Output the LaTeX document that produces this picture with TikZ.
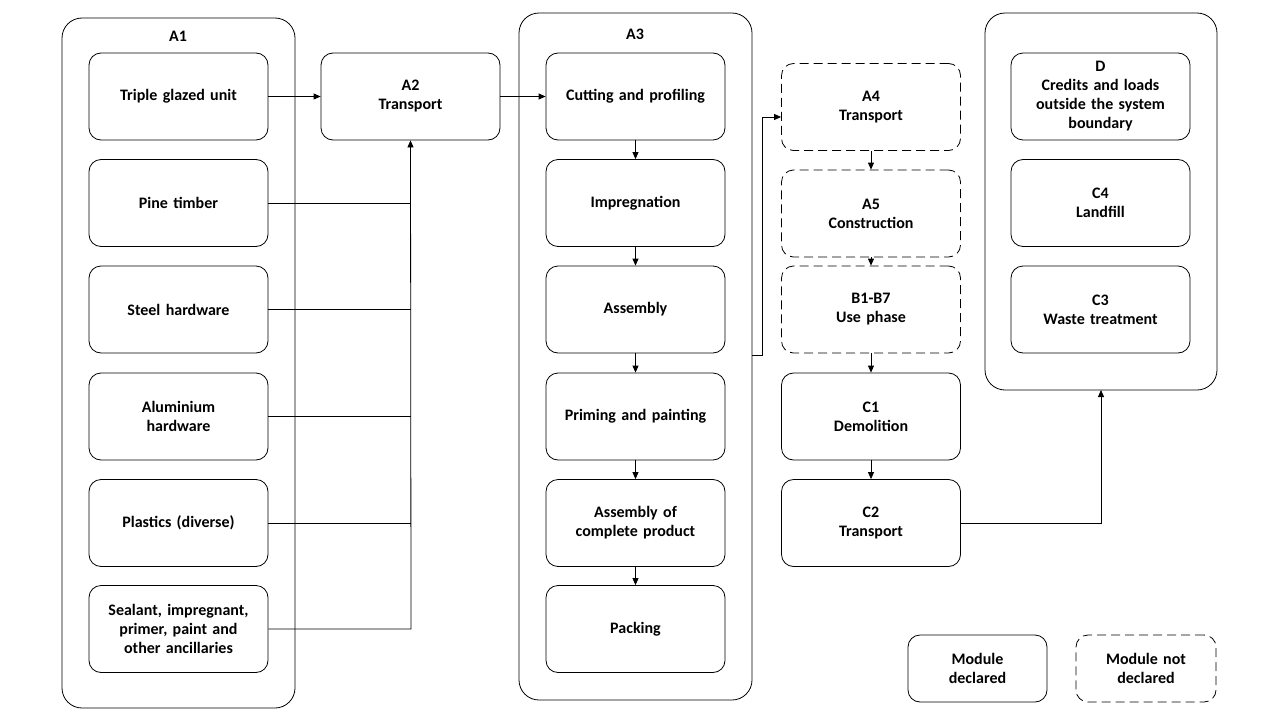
\documentclass[tikz,border=0pt]{standalone}
\usepackage{fontspec}
\setmainfont{Carlito}
\usetikzlibrary{arrows.meta, positioning}
\begin{document}
\begin{tikzpicture}[x=1pt, y=-1pt, >={Triangle[length=7pt,width=6pt]}, font=\bfseries\fontsize{16}{19}\selectfont]
    \tikzset{module/.style={draw, rounded corners=12pt, thick, align=center, minimum width=179pt, minimum height=87pt, inner sep=2pt, text width=170pt},
        undeclared/.style={module, dashed, dash pattern=on 9pt off 5pt},
        stage/.style={draw, rounded corners=20pt, thick},
        link/.style={->, thick}}
    \useasboundingbox (0,0) rectangle (1280,720);
    % outer boxes
    \draw [stage] (62,18) rectangle (295,708);
    \draw [stage] (519,13) rectangle (752,700);
    \draw [stage] (985,13) rectangle (1217,390);
    \coordinate (dbottom) at (1101,390);
    % A1
    \node at (178,36) (a1) {A1};
    \node [module] at (178.5,96.5) (glazed) {Triple glazed unit};
    \node [module] at (178.5,203) (pine) {Pine timber};
    \node [module] at (178.5,309.5) (steel) {Steel hardware};
    \node [module] at (178.5,416.5) (alu) {Aluminium\\hardware};
    \node [module] at (178.5,523) (plastics) {Plastics (diverse)};
    \node [module] at (178.5,629) (sealant) {Sealant, impregnant,\\primer, paint and\\other ancillaries};
    % A2
    \node [module] at (410.5,96.5) (a2) {A2\\Transport};
    % A3
    \node at (635,34) (a3) {A3};
    \node [module] at (635.5,96.5) (cutting) {Cutting and profiling};
    \node [module] at (635.5,203) (impreg) {Impregnation};
    \node [module] at (635.5,309.5) (assembly) {Assembly};
    \node [module] at (635.5,416.5) (priming) {Priming and painting};
    \node [module] at (635.5,523) (complete) {Assembly of\\complete product};
    \node [module] at (635.5,629) (packing) {Packing};
    % A4 - C2
    \node [undeclared] at (871,107) (a4) {A4\\Transport};
    \node [undeclared] at (871,213.5) (a5) {A5\\Construction};
    \node [undeclared] at (871,309.5) (use) {B1-B7\\Use phase};
    \node [module] at (871,416.5) (c1) {C1\\Demolition};
    \node [module] at (871,523) (c2) {C2\\Transport};
    % D
    \node [module] at (1100.5,96.5) (d) {D\\Credits and loads\\outside the system\\boundary};
    \node [module] at (1100.5,203) (c4) {C4\\Landfill};
    \node [module] at (1100.5,309.5) (c3) {C3\\Waste treatment};
    % legend
    \node [module, minimum width=139pt, text width=130pt, minimum height=67pt] at (977.5,668.5) (declared) {Module\\declared};
    \node [undeclared, minimum width=140pt, text width=130pt, minimum height=67pt] at (1146,668.5) (notdeclared) {Module not\\declared};
    % connectors
    \draw [link] (glazed) -- (a2);
    \coordinate (bus) at (411,629);
    \foreach \src in {pine, steel, alu, plastics}
        \draw [thick] (\src.east) -- (\src.east -| bus);
    \draw [link] (sealant.east) -- (bus) -- (a2.south);
    \draw [link] (a2) -- (cutting);
    \draw [link] (cutting) -- (impreg);
    \draw [link] (impreg) -- (assembly);
    \draw [link] (assembly) -- (priming);
    \draw [link] (priming) -- (complete);
    \draw [link] (complete) -- (packing);
    \coordinate (a3exit) at (752,355);
    \draw [link] (a3exit) -- ++(10,0) |- ([yshift=-10pt]a4.west);
    \draw [link] (a4) -- (a5);
    \draw [link] (a5) -- (use);
    \draw [link] (use) -- (c1);
    \draw [link] (c1) -- (c2);
    \draw [link] (c2.east) -| (dbottom);
\end{tikzpicture}
\end{document}
